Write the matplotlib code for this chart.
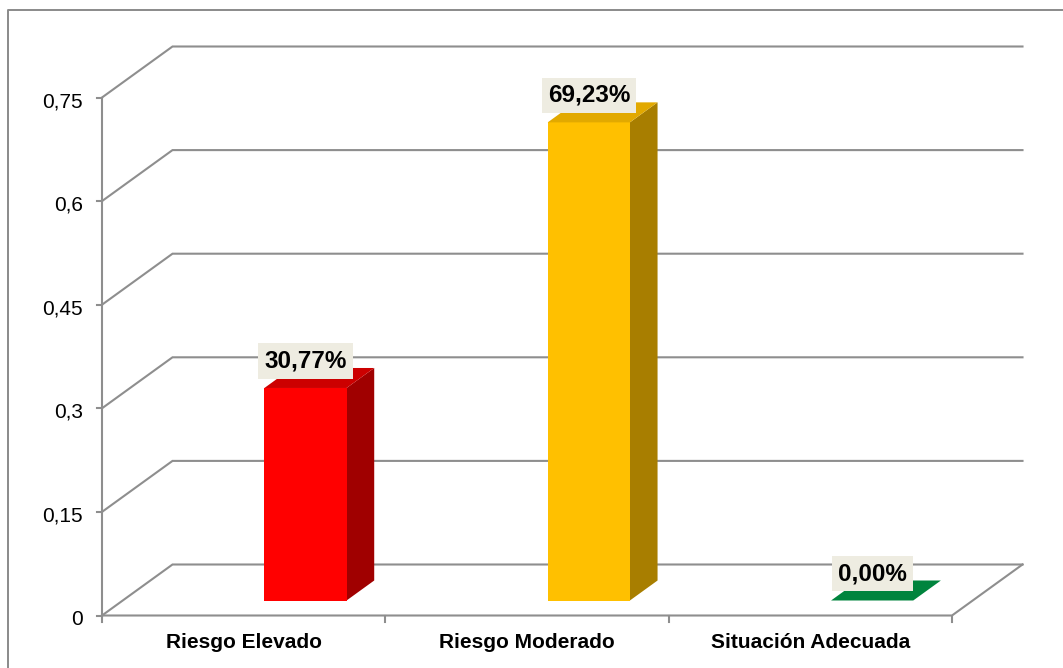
import matplotlib
matplotlib.use("Agg")
import matplotlib.pyplot as plt
from matplotlib.patches import Polygon
from matplotlib.lines import Line2D
from matplotlib.transforms import IdentityTransform
import numpy as np

plt.rcParams['font.family'] = ['Liberation Sans', 'DejaVu Sans']

categories = ["Riesgo Elevado", "Riesgo Moderado", "Situación Adecuada"]
values = [0.3077, 0.6923, 0.0]
value_labels = ["30,77%", "69,23%", "0,00%"]
ytick_values = [0, 0.15, 0.3, 0.45, 0.6, 0.75]
ytick_labels = ["0", "0,15", "0,3", "0,45", "0,6", "0,75"]

front_colors = ["#FF0000", "#FFC000", "#00843D"]
top_colors = ["#CC0000", "#E2A900", "#00843D"]
side_colors = ["#A00000", "#A87E00", "#006B30"]

W, H = 1063, 668
fig = plt.figure(figsize=(W / 100, H / 100), dpi=100)
fig.patch.set_facecolor("white")
ax = fig.add_axes([102 / W, (H - 615.5) / H, 850 / W, 518 / H])
ax.set_xlim(0, len(categories))
ax.set_ylim(0, 0.75)
ax.axis("off")

DX, DY = 70.5, 51.0  # full depth offset in pixels
grid_c = "#8E8E8E"
lw = 1.5
idt = IdentityTransform()


def proj(x, y, f):
    px, py = ax.transData.transform((x, y))
    return (px + DX * f, py + DY * f)


def line(pts, **kw):
    xs, ys = zip(*pts)
    fig.add_artist(Line2D(xs, ys, transform=idt, **kw))


# outer chart border
line([(8, 0), (8, H - 9.5), (W, H - 9.5)], color="#8A8A8A", lw=1.4)

n = len(categories)
# gridlines (walls) and floor
for v in ytick_values:
    p0 = proj(0, v, 0)
    p1 = proj(0, v, 1)
    p2 = proj(n, v, 1)
    line([p0, p1, p2], color=grid_c, lw=lw, solid_joinstyle="miter")
# floor front and right edges
line([proj(0, 0, 0), proj(n, 0, 0), proj(n, 0, 1)], color=grid_c, lw=lw)
# vertical axis
line([proj(0, 0, 0), proj(0, 0.75, 0)], color=grid_c, lw=lw)
# y ticks and labels
for v, lab in zip(ytick_values, ytick_labels):
    px, py = proj(0, v, 0)
    line([(px - 5, py), (px, py)], color=grid_c, lw=lw)
    fig.text(px - 19, py - 9.5, lab, transform=idt, ha="right", va="baseline",
             fontsize=15, color="black")
# x ticks
for i in range(n + 1):
    px, py = proj(i, 0, 0)
    line([(px, py), (px, py - 6)], color=grid_c, lw=lw)
# category labels
for i, c in enumerate(categories):
    px, py = proj(i + 0.5, 0, 0)
    fig.text(px, py - 32, c, transform=idt, ha="center", va="baseline",
             fontsize=15, fontweight="bold", color="black")

# bars
bw = 0.29
f1, f2 = 15 / 51, 35 / 51
for i, (v, lab) in enumerate(zip(values, value_labels)):
    x0 = i + 0.5
    x1 = x0 + bw
    front = [proj(x0, 0, f1), proj(x1, 0, f1), proj(x1, v, f1), proj(x0, v, f1)]
    side = [proj(x1, 0, f1), proj(x1, 0, f2), proj(x1, v, f2), proj(x1, v, f1)]
    top = [proj(x0, v, f1), proj(x1, v, f1), proj(x1, v, f2), proj(x0, v, f2)]
    for poly, col in ((side, side_colors[i]), (front, front_colors[i]), (top, top_colors[i])):
        fig.add_artist(Polygon(poly, closed=True, transform=idt, facecolor=col,
                               edgecolor="none", zorder=3))
    cx, cy = proj((x0 + x1) / 2, v, f1)
    fig.text(cx, cy + 27, lab, transform=idt, ha="center", va="center",
             fontsize=17.5, fontweight="bold", color="black", zorder=5,
             bbox=dict(boxstyle="square,pad=0.25", facecolor="#EEECE1", edgecolor="none"))

fig.savefig("out.png", dpi=100)
